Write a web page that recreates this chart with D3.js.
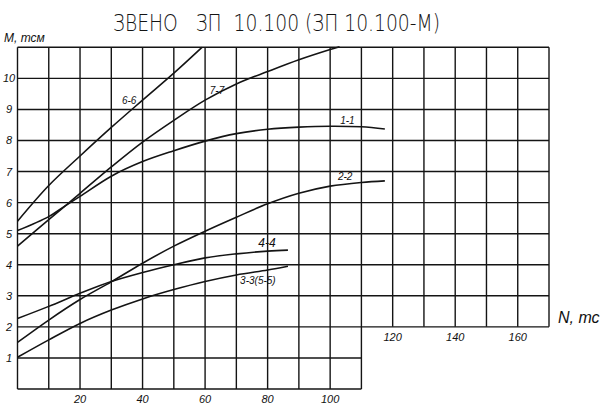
<!DOCTYPE html>
<html><head><meta charset="utf-8">
<script src="https://cdn.jsdelivr.net/npm/d3@7"></script>
<style>
html,body{margin:0;padding:0;background:#fff;}
svg{display:block;}
.lbl{font-family:"Liberation Sans Narrow","Liberation Sans",sans-serif;font-style:italic;fill:#111;}
</style></head>
<body>
<script>
// ---- data ----
const title = "ЗВЕНО   ЗП  10.100 (ЗП 10.100-М)";
const yAxisTitle = "М, тсм";
const xAxisTitle = "N, тс";
const yTickLabels = [1,2,3,4,5,6,7,8,9,10];
const xTickLabelsLow = [20,40,60,80,100];
const xTickLabelsHigh = [120,140,160];

const curveNames = ["1-1","2-2","3-3(5-5)","4-4","6-6","7-7"];
const n11 = [0,10,15,20,30,40,50,60,70,80,90,100,110,117.5];
const m11 = [5.1,5.55,5.88,6.2,6.85,7.32,7.67,7.98,8.22,8.36,8.43,8.46,8.44,8.37];
const n22 = [0,10,20,30,40,50,60,70,80,90,100,110,117.5];
const m22 = [1.5,2.22,2.88,3.45,4.05,4.6,5.08,5.53,5.96,6.3,6.53,6.65,6.7];
const n33 = [0,10,20,30,40,50,60,70,80,86.5];
const m33 = [1.02,1.58,2.11,2.54,2.9,3.2,3.46,3.67,3.83,3.95];
const n44 = [0,10,20,30,40,50,60,70,80,86.5];
const m44 = [2.27,2.66,3.08,3.46,3.75,4.0,4.22,4.35,4.44,4.47];
const n66 = [0,10,20,30,40,50,59];
const m66 = [5.4,6.55,7.5,8.42,9.3,10.17,11];
const n77 = [0,10,20,30,40,50,60,70,80,90,100,103];
const m77 = [4.6,5.45,6.3,7.15,7.95,8.65,9.3,9.82,10.22,10.6,10.93,11.02];

const W = 605, H = 413;
const svg = d3.select("body").append("svg").attr("width", W).attr("height", H);
svg.append("rect").attr("width", W).attr("height", H).attr("fill", "#fff");

const x = d3.scaleLinear().domain([0,170]).range([17.5,549]);
const y = d3.scaleLinear().domain([0,11]).range([389,47.3]);

const ink = "#141414";
const g = svg.append("g");

// grid
const xs = d3.range(0,171,10);
xs.forEach(v => {
  const y0 = v <= 110 ? 0 : 2;
  g.append("line").attr("x1", x(v)).attr("x2", x(v)).attr("y1", y(y0)).attr("y2", y(11))
    .attr("stroke", ink).attr("stroke-width", 1.4);
});
d3.range(0,12).forEach(v => {
  const x1 = v < 2 ? 110 : 170;
  g.append("line").attr("x1", x(0)).attr("x2", x(x1)).attr("y1", y(v)).attr("y2", y(v))
    .attr("stroke", ink).attr("stroke-width", 1.4);
});

// y tick labels
g.selectAll(".yt").data(yTickLabels).enter().append("text").attr("class","lbl")
  .attr("x", 9).attr("y", d => y(d) + 4).attr("text-anchor","middle")
  .attr("font-size", 11).text(d => d);
// x tick labels
g.selectAll(".xt").data(xTickLabelsLow).enter().append("text").attr("class","lbl")
  .attr("x", d => x(d)).attr("y", 403).attr("text-anchor","middle")
  .attr("font-size", 11).text(d => d);
g.selectAll(".xt2").data(xTickLabelsHigh).enter().append("text").attr("class","lbl")
  .attr("x", d => x(d)).attr("y", y(2) + 14).attr("text-anchor","middle")
  .attr("font-size", 11).text(d => d);

// axis titles
svg.append("text").attr("class","lbl").attr("x", 4).attr("y", 42).attr("font-size", 12).text(yAxisTitle);
svg.append("text").attr("class","lbl").attr("x", 558).attr("y", 323).attr("font-size", 16).text(xAxisTitle);

// title
svg.append("text").attr("x", 113).attr("y", 31)
  .attr("font-family", "'DejaVu Sans', sans-serif").attr("font-weight", 300)
  .attr("font-size", 23).attr("fill", ink).attr("textLength", 327).attr("lengthAdjust","spacingAndGlyphs")
  .style("white-space","pre").text(title);

// curves
const line = d3.line().x(d => x(d[0])).y(d => y(d[1])).curve(d3.curveCatmullRom.alpha(0.5));
const series = [[n11,m11],[n22,m22],[n33,m33],[n44,m44],[n66,m66],[n77,m77]];
series.forEach(([n,m]) => {
  svg.append("path").attr("d", line(n.map((v,i) => [v, m[i]])))
    .attr("fill","none").attr("stroke", ink).attr("stroke-width", 1.6);
});

// curve labels (position in data units)
const labelPos = [[103.2,8.53],[102.5,6.72],[71.2,3.38],[77,4.57],[33.4,9.18],[61.5,9.5]];
const labelSize = [10,10,10,12,10,10];
curveNames.forEach((nm,i) => {
  svg.append("text").attr("class","lbl").attr("x", x(labelPos[i][0])).attr("y", y(labelPos[i][1]))
    .attr("font-size", labelSize[i]).text(nm);
});
</script>
</body></html>
